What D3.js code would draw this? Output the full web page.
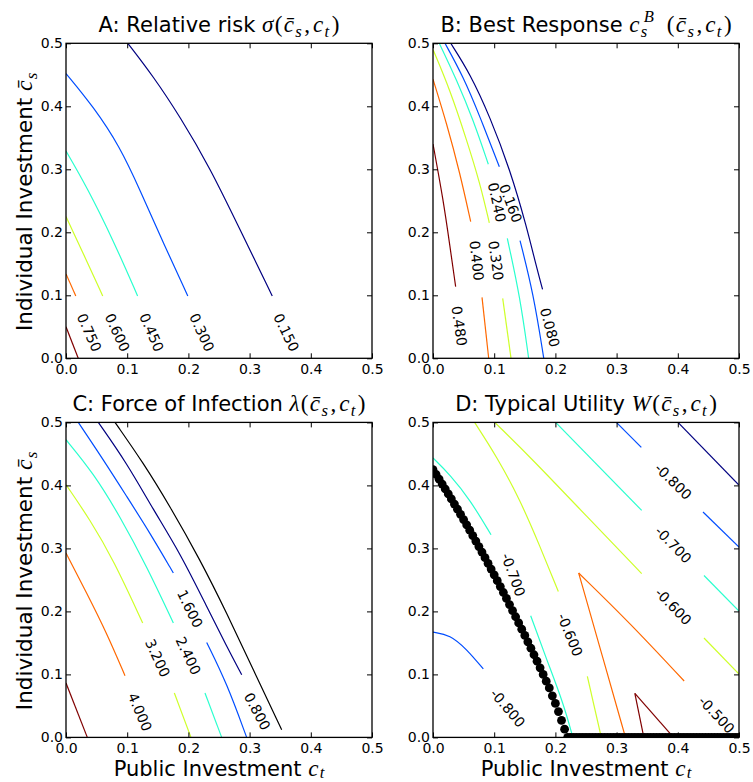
<!DOCTYPE html>
<html>
<head>
<meta charset="utf-8">
<script src="https://cdn.jsdelivr.net/npm/d3@7"></script>
<style>
  body { margin: 0; background: #fff; }
  svg { display: block; }
</style>
</head>
<body>
<svg id="chart" width="753" height="782"></svg>
<script>
// ---- shared axis ticks (both axes run 0 .. 0.5) ----
const axisTicks = [0, 0.1, 0.2, 0.3, 0.4, 0.5];

// ---- A: relative risk sigma(cs, ct) ----  each entry: [level, [[ct, cs], ...]]
const riskLevels = [0.15, 0.30, 0.45, 0.60, 0.75, 0.90];
const riskPaths = [
  [0.15, [[0.101, 0.5], [0.143, 0.447], [0.186, 0.384], [0.235, 0.303], [0.284, 0.205], [0.337, 0.099]]],
  [0.30, [[0, 0.452], [0.045, 0.399], [0.088, 0.336], [0.121, 0.267], [0.159, 0.183], [0.199, 0.099]]],
  [0.45, [[0, 0.329], [0.034, 0.272], [0.077, 0.188], [0.117, 0.099]]],
  [0.60, [[0, 0.225], [0.028, 0.167], [0.060, 0.099]]],
  [0.75, [[0, 0.134], [0.016, 0.099]]],
  [0.90, [[0, 0.050], [0.020, 0]]]
];
const riskLabels = [
  [0.75, 0.038, 0.041], [0.60, 0.084, 0.041], [0.45, 0.140, 0.041],
  [0.30, 0.222, 0.041], [0.15, 0.360, 0.041]
];

// ---- B: best response cs^B(cs, ct) ----
const bestLevels = [0.08, 0.16, 0.24, 0.32, 0.40, 0.48];
const bestPaths = [
  [0.08, [[0.029, 0.5], [0.0605, 0.452], [0.093, 0.3835], [0.126, 0.299], [0.153, 0.209], [0.169, 0.145], [0.179, 0.1095]]],
  [0.16, [[0.0196, 0.5], [0.0495, 0.447], [0.0768, 0.3835], [0.1084, 0.304]]],
  [0.16, [[0.1422, 0.1867], [0.164, 0.103], [0.181, 0]]],
  [0.24, [[0.0103, 0.5], [0.0387, 0.442], [0.0659, 0.378], [0.0904, 0.308]]],
  [0.24, [[0.1214, 0.1905], [0.1422, 0.0978], [0.1563, 0]]],
  [0.32, [[0, 0.49], [0.0278, 0.426], [0.055, 0.3465], [0.0768, 0.278], [0.092, 0.215]]],
  [0.32, [[0.1139, 0.0952], [0.1275, 0]]],
  [0.40, [[0, 0.443], [0.0223, 0.373], [0.0441, 0.2937], [0.0616, 0.2168]]],
  [0.40, [[0.0801, 0.0968], [0.091, 0]]],
  [0.48, [[0, 0.340], [0.0168, 0.2513], [0.0278, 0.177], [0.037, 0.1137]]]
];
const bestLabels = [
  [0.16, 0.127, 0.246], [0.24, 0.1046, 0.2476], [0.40, 0.0714, 0.155],
  [0.32, 0.103, 0.155], [0.48, 0.043, 0.0513], [0.08, 0.191, 0.049]
];

// ---- C: force of infection lambda(cs, ct) ----
const forceLevels = [0.8, 1.6, 2.4, 3.2, 4.0, 4.8];
const forcePaths = [
  [0.8, [[0.0528, 0.5], [0.0992, 0.4356], [0.1427, 0.3614], [0.1863, 0.2927], [0.2299, 0.2079], [0.2626, 0.1444], [0.2871, 0.0995]]],
  [1.6, [[0.0201, 0.5], [0.061, 0.4408], [0.0992, 0.3825], [0.1373, 0.3244], [0.1754, 0.261]]],
  [1.6, [[0.2299, 0.1508], [0.2626, 0.0863], [0.2952, 0]]],
  [2.4, [[0, 0.4725], [0.0446, 0.4197], [0.0882, 0.3508], [0.1319, 0.2714], [0.1754, 0.1816]]],
  [2.4, [[0.2271, 0.0705], [0.2544, 0]]],
  [3.2, [[0, 0.4011], [0.0392, 0.3456], [0.0773, 0.2821], [0.1253, 0.1816]]],
  [3.2, [[0.177, 0.0705], [0.2042, 0]]],
  [4.0, [[0, 0.2927], [0.0338, 0.2292], [0.0665, 0.1657], [0.0964, 0.0979]]],
  [4.8, [[0, 0.0863], [0.0348, 0]]]
];
// epidemic threshold curve, drawn in black
const forceThreshold = [[0.0801, 0.5], [0.1264, 0.4356], [0.1699, 0.3667], [0.219, 0.2822], [0.2626, 0.1975], [0.306, 0.1075], [0.3524, 0.0122]];
const forceLabels = [
  [1.6, 0.2026, 0.2043], [2.4, 0.1999, 0.1297], [3.2, 0.1498, 0.126],
  [4.0, 0.1209, 0.0403], [0.8, 0.3126, 0.0413]
];

// ---- D: typical utility W(cs, ct) ----
const utilityLevels = [-0.9, -0.8, -0.7, -0.6, -0.5, -0.4];
const utilityPaths = [
  [-0.9, [[0.4003, 0.5], [0.4995, 0.401]]],
  [-0.8, [[0.2996, 0.5], [0.3404, 0.4604]]],
  [-0.8, [[0.4412, 0.3577], [0.5, 0.302]]],
  [-0.8, [[0, 0.167], [0.0278, 0.163], [0.055, 0.140], [0.0822, 0.1086]]],
  [-0.7, [[0, 0.4435], [0.0278, 0.417], [0.0605, 0.3773], [0.0948, 0.3217]]],
  [-0.7, [[0.2004, 0.5], [0.341, 0.3603]]],
  [-0.7, [[0.4428, 0.257], [0.5, 0.2005]]],
  [-0.7, [[0.1596, 0.1932], [0.1858, 0.1233], [0.2129, 0.0546], [0.2285, 0]]],
  [-0.6, [[0.068, 0.5], [0.104, 0.446], [0.1422, 0.3773], [0.1748, 0.3032], [0.2048, 0.2317]]],
  [-0.6, [[0.1008, 0.5], [0.16, 0.444], [0.25, 0.352], [0.341, 0.26]]],
  [-0.6, [[0.4428, 0.1578], [0.5, 0.1005]]],
  [-0.6, [[0.2522, 0.0969], [0.275, 0]]],
  [-0.5, [[0.238, 0.261], [0.275, 0.135], [0.3145, 0]]],
  [-0.5, [[0.238, 0.261], [0.3219, 0.1816], [0.4104, 0.0895]]],
  [-0.4, [[0.3298, 0.070], [0.3445, 0]]],
  [-0.4, [[0.3298, 0.070], [0.393, 0]]]
];
const utilityLabels = [
  [-0.8, 0.3927, 0.4063], [-0.7, 0.3927, 0.3059], [-0.6, 0.3927, 0.208],
  [-0.5, 0.4635, 0.036], [-0.7, 0.1312, 0.2583], [-0.6, 0.2239, 0.163],
  [-0.8, 0.122, 0.0467]
];
// Nash equilibrium individual investment for each public investment level
const nashCt = [0, 0.005, 0.01, 0.015, 0.02, 0.025, 0.03, 0.035, 0.04, 0.045, 0.05, 0.055, 0.06, 0.065, 0.07, 0.075, 0.08, 0.085, 0.09, 0.095,
  0.1, 0.105, 0.11, 0.115, 0.12, 0.125, 0.13, 0.135, 0.14, 0.145, 0.15, 0.155, 0.16, 0.165, 0.17, 0.175, 0.18, 0.185, 0.19, 0.195,
  0.2, 0.205, 0.21, 0.215, 0.22, 0.225, 0.23, 0.235, 0.24, 0.245, 0.25, 0.255, 0.26, 0.265, 0.27, 0.275, 0.28, 0.285, 0.29, 0.295,
  0.3, 0.305, 0.31, 0.315, 0.32, 0.325, 0.33, 0.335, 0.34, 0.345, 0.35, 0.355, 0.36, 0.365, 0.37, 0.375, 0.38, 0.385, 0.39, 0.395,
  0.4, 0.405, 0.41, 0.415, 0.42, 0.425, 0.43, 0.435, 0.44, 0.445, 0.45, 0.455, 0.46, 0.465, 0.47, 0.475, 0.48, 0.485, 0.49, 0.495, 0.5];
const nashCs = [0.425, 0.4175, 0.4098, 0.4021, 0.3943, 0.3864, 0.3785, 0.3704, 0.3623, 0.3541, 0.3458, 0.3374, 0.3289, 0.3203, 0.3117,
  0.3029, 0.2941, 0.2852, 0.2762, 0.2672, 0.258, 0.2488, 0.2394, 0.23, 0.2205, 0.2109, 0.2013, 0.1915, 0.1817, 0.1718, 0.1618,
  0.1517, 0.1415, 0.1312, 0.1209, 0.1104, 0.0999, 0.0893, 0.0786, 0.066, 0.054, 0.041, 0.027, 0.013,
  0, 0, 0, 0, 0, 0, 0, 0, 0, 0, 0, 0, 0, 0, 0, 0, 0, 0, 0, 0, 0, 0, 0, 0, 0, 0, 0, 0, 0, 0,
  0, 0, 0, 0, 0, 0, 0, 0, 0, 0, 0, 0, 0, 0, 0, 0, 0, 0, 0, 0, 0, 0, 0, 0, 0, 0, 0];

// jet colormap sampled at the six contour levels
const jetColors = ["#000080", "#004dff", "#29ffce", "#ceff29", "#ff6800", "#800000"];

const svg = d3.select("#chart");
const W = 306, H = 315;
const SANS = "DejaVu Sans";
const SERIF = "Liberation Serif";

// Mixed plain / math text built from tspans; kinds: sans, it, rm, sub, sup.
// Math glyphs are set a little larger and looser than the surrounding sans text.
function richText(sel, parts, fs, subDrop = 0.26) {
  let shift = 0;
  const mfs = 1.1 * fs;
  parts.forEach(([str, kind, dx]) => {
    const t = sel.append("tspan").text(str);
    let target = 0, size = mfs;
    if (kind === "sub") { target = subDrop * fs; size = 0.72 * mfs; }
    if (kind === "sup") { target = -0.45 * fs; size = 0.72 * mfs; }
    if (target - shift !== 0) t.attr("dy", target - shift);
    shift = target;
    if (kind === "sans") {
      t.attr("font-family", SANS).attr("font-size", fs);
    } else {
      t.attr("dx", dx !== undefined ? dx : 1.3);
      t.attr("font-family", SERIF).attr("font-size", size);
      if (kind !== "rm") t.attr("font-style", "italic");
    }
  });
}

const argsTail = [["(", "rm"], ["c\u0304", "it"], ["s", "sub"], [",", "rm", 2.5], ["c", "it", 3], ["t", "sub"], [")", "rm", 2.5]];

const panels = [
  { id: "A", x0: 66, y0: 43.3, levels: riskLevels, paths: riskPaths, labels: riskLabels,
    title: [["A: Relative risk ", "sans"], ["\u03c3", "it", 0]].concat(argsTail), yAxisTitle: true, xAxisTitle: false },
  { id: "B", x0: 433, y0: 43.3, levels: bestLevels, paths: bestPaths, labels: bestLabels,
    title: [["B: Best Response ", "sans"], ["c", "it", 0], ["s", "sub"], ["B", "sup", -3.5], ["\u2002", "rm", 0]].concat(argsTail),
    yAxisTitle: false, xAxisTitle: false },
  { id: "C", x0: 66, y0: 422.4, levels: forceLevels, paths: forcePaths, labels: forceLabels,
    title: [["C: Force of Infection ", "sans"], ["\u03bb", "it", 0]].concat(argsTail), yAxisTitle: true, xAxisTitle: true,
    extra: forceThreshold },
  { id: "D", x0: 433, y0: 422.4, levels: utilityLevels, paths: utilityPaths, labels: utilityLabels,
    title: [["D: Typical Utility ", "sans"], ["W", "it", 0]].concat(argsTail), yAxisTitle: false, xAxisTitle: true,
    dots: d3.zip(nashCt, nashCs) }
];

const fmtTick = d3.format(".1f");
const fmtLevel = v => d3.format(".3f")(v).replace("\u2212", "-");

// rotation of an inline label: direction of its level's contour at the nearest vertex
function labelAngle(lbl, paths, x, y) {
  let best = null, bd = Infinity;
  paths.filter(p => p[0] === lbl[0]).forEach(p => {
    const pts = p[1];
    pts.forEach((q, i) => {
      const d = Math.hypot(x(q[0]) - x(lbl[1]), y(q[1]) - y(lbl[2]));
      if (d < bd) { bd = d; best = [q, i === 0 ? pts[1] : pts[i - 1]]; }
    });
  });
  const [q, r] = best;
  let a = Math.atan2(y(q[1]) - y(r[1]), x(q[0]) - x(r[0])) * 180 / Math.PI;
  if (a > 90) a -= 180;
  if (a <= -90) a += 180;
  return a;
}

panels.forEach(p => {
  const x = d3.scaleLinear().domain([0, 0.5]).range([p.x0, p.x0 + W]);
  const y = d3.scaleLinear().domain([0, 0.5]).range([p.y0 + H, p.y0]);
  const color = d3.scaleOrdinal().domain(p.levels).range(jetColors);
  const g = svg.append("g");

  const clipId = "clip" + p.id;
  svg.append("clipPath").attr("id", clipId)
    .append("rect").attr("x", p.x0).attr("y", p.y0).attr("width", W).attr("height", H);
  const plot = g.append("g").attr("clip-path", `url(#${clipId})`);

  const line = d3.line().x(d => x(d[0])).y(d => y(d[1])).curve(d3.curveBasis);

  plot.selectAll("path.level").data(p.paths).join("path")
    .attr("class", "level")
    .attr("d", d => line(d[1]))
    .attr("fill", "none")
    .attr("stroke", d => color(d[0]))
    .attr("stroke-width", 1.2);

  if (p.extra) {
    plot.append("path").attr("d", line(p.extra))
      .attr("fill", "none").attr("stroke", "#000").attr("stroke-width", 1.2);
  }

  if (p.dots) {
    plot.selectAll("circle").data(p.dots).join("circle")
      .attr("cx", d => x(d[0])).attr("cy", d => y(d[1])).attr("r", 4.4)
      .attr("fill", "#000");
  }

  // inline contour labels
  g.selectAll("text.clabel").data(p.labels).join("text")
    .attr("class", "clabel")
    .attr("transform", d => `translate(${x(d[1])},${y(d[2])}) rotate(${labelAngle(d, p.paths, x, y)})`)
    .attr("text-anchor", "middle")
    .attr("dominant-baseline", "central")
    .attr("font-family", SANS)
    .attr("font-size", 14)
    .attr("fill", "#000")
    .text(d => fmtLevel(d[0]));

  // axes: inward ticks on all four sides, labels on bottom and left
  const styleAxis = sel => {
    sel.select(".domain").remove();
    sel.attr("font-family", SANS).attr("font-size", 14);
    sel.selectAll(".tick line").attr("stroke", "#000").attr("stroke-width", 1);
    sel.selectAll(".tick text").attr("fill", "#000");
  };
  g.append("g").attr("transform", `translate(0,${p.y0 + H})`)
    .call(d3.axisBottom(x).tickValues(axisTicks).tickFormat(fmtTick).tickSizeInner(-5).tickSizeOuter(0).tickPadding(5.5))
    .call(styleAxis);
  g.append("g").attr("transform", `translate(${p.x0},0)`)
    .call(d3.axisLeft(y).tickValues(axisTicks).tickFormat(fmtTick).tickSizeInner(-5).tickSizeOuter(0).tickPadding(3))
    .call(styleAxis);
  g.append("g").attr("transform", `translate(0,${p.y0})`)
    .call(d3.axisTop(x).tickValues(axisTicks).tickFormat("").tickSizeInner(-5).tickSizeOuter(0))
    .call(styleAxis);
  g.append("g").attr("transform", `translate(${p.x0 + W},0)`)
    .call(d3.axisRight(y).tickValues(axisTicks).tickFormat("").tickSizeInner(-5).tickSizeOuter(0))
    .call(styleAxis);

  g.append("rect").attr("x", p.x0).attr("y", p.y0).attr("width", W).attr("height", H)
    .attr("fill", "none").attr("stroke", "#000").attr("stroke-width", 1.3);

  // panel title
  const title = g.append("text")
    .attr("x", p.x0 + W / 2).attr("y", p.y0 - 11.6)
    .attr("text-anchor", "middle").attr("fill", "#000");
  richText(title, p.title, 21);

  if (p.yAxisTitle) {
    const yt = g.append("text")
      .attr("transform", `translate(31.5,${p.y0 + H / 2 + 1}) rotate(-90)`)
      .attr("text-anchor", "middle").attr("fill", "#000");
    richText(yt, [["Individual Investment ", "sans"], ["c\u0304", "it", 0], ["s", "sub"]], 21.5);
  }
  if (p.xAxisTitle) {
    const xt = g.append("text")
      .attr("x", p.x0 + W / 2).attr("y", p.y0 + H + 38.6)
      .attr("text-anchor", "middle").attr("fill", "#000");
    richText(xt, [["Public Investment ", "sans"], ["c", "it", 0], ["t", "sub"]], 21, 0.1);
  }
});
</script>
</body>
</html>
